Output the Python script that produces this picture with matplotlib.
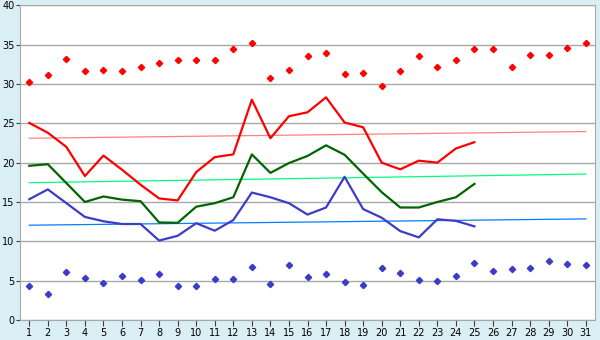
import matplotlib
matplotlib.use('Agg')
import matplotlib.pyplot as plt
import numpy as np

days = list(range(1, 32))

# daily max / min points
max_pts = [30.2, 31.1, 33.2, 31.6, 31.8, 31.7, 32.1, 32.7, 33.0, 33.0,
           33.0, 34.5, 35.2, 30.8, 31.8, 33.5, 33.9, 31.3, 31.4, 29.8,
           31.6, 33.6, 32.2, 33.0, 34.4, 34.5, 32.1, 33.7, 33.7, 34.6, 35.2]
min_pts = [4.27, 3.26, 6.05, 5.29, 4.66, 5.55, 5.04, 5.80, 4.27, 4.27,
           5.17, 5.17, 6.69, 4.53, 6.94, 5.42, 5.80, 4.78, 4.40, 6.56,
           5.93, 5.04, 4.91, 5.55, 7.2, 6.18, 6.43, 6.56, 7.45, 7.07, 6.94]

# lines (days 1-25)
line_days = list(range(1, 26))
red_line = [25.05, 23.8, 22.0, 18.3, 20.9, 19.1, 17.2, 15.45, 15.2, 18.8,
            20.7, 21.05, 28.0, 23.1, 25.9, 26.4, 28.3, 25.1, 24.5, 20.0,
            19.15, 20.25, 20.0, 21.8, 22.6]
green_line = [19.6, 19.8, 17.4, 15.0, 15.7, 15.3, 15.1, 12.4, 12.35, 14.4,
              14.85, 15.6, 21.05, 18.7, 19.95, 20.85, 22.2, 21.0, 18.6, 16.25,
              14.3, 14.3, 15.0, 15.6, 17.3]
blue_line = [15.35, 16.6, 14.85, 13.1, 12.55, 12.2, 12.2, 10.1, 10.7, 12.3,
             11.35, 12.7, 16.2, 15.6, 14.85, 13.4, 14.3, 18.2, 14.1, 13.0,
             11.3, 10.5, 12.8, 12.6, 11.9]

# trend lines (start, end at day 1 and day 31)
trend_days = [1, 31]
red_trend = [23.1, 23.95]
green_trend = [17.45, 18.55]
blue_trend = [12.05, 12.85]

bg = '#daeef5'
fig = plt.figure(figsize=(6, 3.4), dpi=100, facecolor=bg)
ax = fig.add_axes([20/600, 1-320/340, 575/600, 314.7/340])
ax.set_facecolor('white')

ax.plot(trend_days, red_trend, color='#ff8080', lw=0.9)
ax.plot(trend_days, green_trend, color='#00ff80', lw=0.9)
ax.plot(trend_days, blue_trend, color='#0080ff', lw=0.9)

ax.plot(line_days, red_line, color='#ff0000', lw=1.6)
ax.plot(line_days, green_line, color='#006400', lw=1.6)
ax.plot(line_days, blue_line, color='#3c3cc8', lw=1.6)

ax.plot(days, max_pts, ls='none', marker='D', ms=3.2, color='#ff0000')
ax.plot(days, min_pts, ls='none', marker='D', ms=3.2, color='#3c3cc8')

ax.set_xlim(0.5, 31.5)
ax.set_ylim(0, 40)
ax.set_xticks(days)
ax.set_yticks(np.arange(0, 41, 5))
ax.yaxis.grid(True, color='#a8a8a8', lw=1)
ax.set_axisbelow(True)
for s in ax.spines.values():
    s.set_color('#a8a8a8')
ax.tick_params(axis='both', colors='#404040', labelcolor='black', labelsize=7,
               width=0.8)
ax.tick_params(axis='x', length=4, pad=2)
ax.tick_params(axis='y', length=3, pad=1)

fig.savefig('out.png', dpi=100, facecolor=bg)
